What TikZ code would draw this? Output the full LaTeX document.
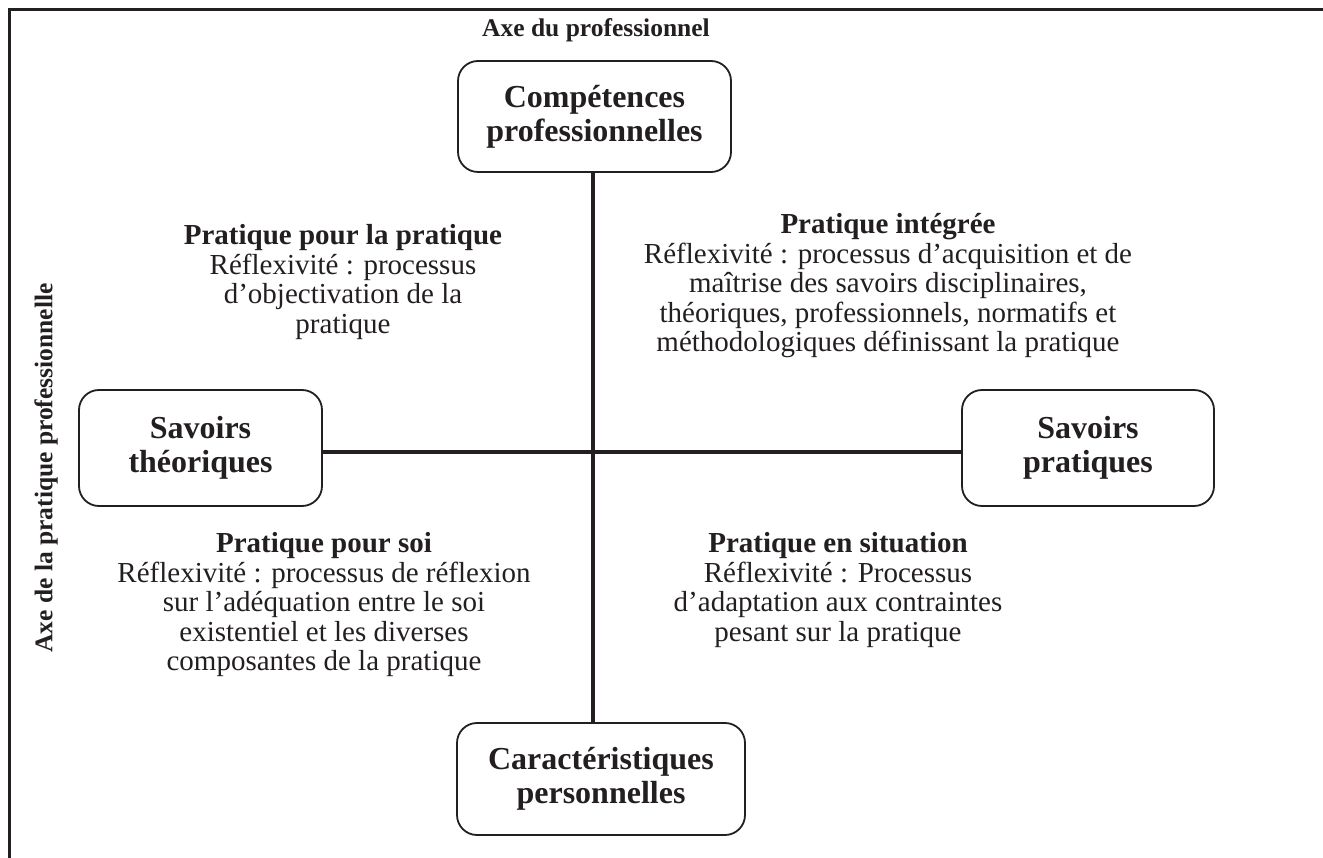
\documentclass[tikz,border=0pt]{standalone}
\usepackage{fontspec}
\setmainfont{Liberation Serif}
\definecolor{ink}{HTML}{231F20}
\begin{document}
\begin{tikzpicture}[x=1pt,y=-1pt, every node/.style={text=ink},
 box/.style={draw=ink, line width=1.8pt, rounded corners=20pt, align=center, font=\fontsize{32}{34}\selectfont\bfseries, inner sep=0pt},
 quad/.style={align=center, font=\fontsize{29}{29.5}\selectfont, inner sep=0pt},
 axislabel/.style={font=\fontsize{25.5}{28}\selectfont\bfseries, inner sep=0pt},
 conn/.style={draw=ink, line width=4pt}]
\useasboundingbox (0,0) rectangle (1323,858);
\draw[ink, line width=3pt] (1323,10) -- (9,10) -- (9,858);
\node[axislabel, anchor=base] (axetop) at (596,37) {Axe du professionnel};
\node[axislabel, rotate=90] (axeleft) at (46,468) {Axe de la pratique professionnelle};
\node[box, minimum width=273pt, minimum height=111pt] (comp) at (594.5,116.5) {Compétences\\professionnelles};
\node[box, minimum width=243pt, minimum height=116pt] (theo) at (200.5,448) {Savoirs\\théoriques};
\node[box, minimum width=252pt, minimum height=116pt] (prat) at (1088,448) {Savoirs\\pratiques};
\node[box, minimum width=288pt, minimum height=112pt] (cara) at (601,779) {Caractéristiques\\personnelles};
\coordinate (vtop) at (593,172);
\coordinate (vbot) at (593,723);
\draw[conn] (vtop) -- (vbot);
\draw[conn] (theo.east |- 0,452) -- (prat.west |- 0,452);
\node[quad] (q1) at (343,282) {\textbf{Pratique pour la pratique}\\Réflexivité : processus\\d’objectivation de la\\pratique};
\node[quad] (q2) at (888,286) {\textbf{Pratique intégrée}\\Réflexivité : processus d’acquisition et de\\maîtrise des savoirs disciplinaires,\\théoriques, professionnels, normatifs et\\méthodologiques définissant la pratique};
\node[quad] (q3) at (324,605) {\textbf{Pratique pour soi}\\Réflexivité : processus de réflexion\\sur l’adéquation entre le soi\\existentiel et les diverses\\composantes de la pratique};
\node[quad] (q4) at (838,590) {\textbf{Pratique en situation}\\Réflexivité : Processus\\d’adaptation aux contraintes\\pesant sur la pratique};
\end{tikzpicture}
\end{document}
